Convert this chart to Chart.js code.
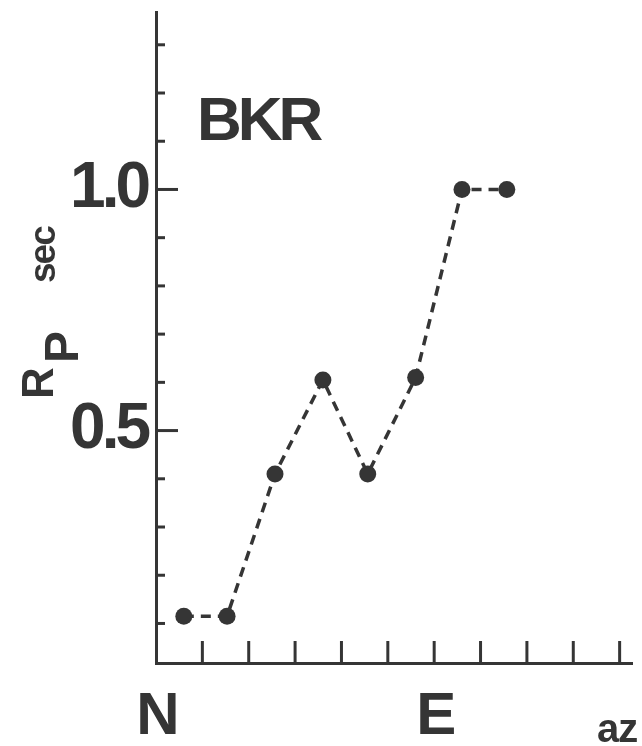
<!DOCTYPE html>
<html lang="en">
<head>
    <meta charset="UTF-8">
    <title>BKR Rp sec vs azimuth</title>
    <script src="https://cdn.jsdelivr.net/npm/chart.js"></script>
    <style>
        body { margin: 0; padding: 0; background: #fff; }
        canvas { display: block; }
    </style>
</head>
<body>
    <canvas id="rpChart" width="642" height="746"></canvas>

    <script>
        // values
        const azimuth = [9, 23, 38.5, 54, 68.5, 84, 99, 113.5];
        const rpSec = [0.115, 0.115, 0.41, 0.605, 0.41, 0.61, 1.0, 1.0];

        const xTicks = [0, 15, 30, 45, 60, 75, 90, 105, 120, 135, 150];
        const xNames = { 0: 'N', 90: 'E' };
        const yTicks = [0.1, 0.2, 0.3, 0.4, 0.5, 0.6, 0.7, 0.8, 0.9, 1.0, 1.1, 1.2, 1.3];
        const yNames = [[0.5, '0.5'], [1.0, '1.0']];

        const ink = '#353535';
        const fontFam = '"Liberation Sans", Arial, sans-serif';

        const yName = v => {
            const hit = yNames.find(p => Math.abs(p[0] - v) < 1e-6);
            return hit ? hit[1] : '';
        };

        // tighter lettering for the tick labels
        const tighten = {
            id: 'tighten',
            beforeDraw(chart) { chart.ctx.letterSpacing = '-4px'; },
            beforeDatasetsDraw(chart) { chart.ctx.letterSpacing = '0px'; }
        };

        // inward tick marks and free text
        const overlay = {
            id: 'overlay',
            afterDraw(chart) {
                const { ctx, scales: { x, y } } = chart;
                ctx.save();
                ctx.letterSpacing = '0px';
                ctx.strokeStyle = ink;
                ctx.lineWidth = 3;
                ctx.lineCap = 'butt';
                yTicks.forEach(v => {
                    const py = y.getPixelForValue(v);
                    const len = yName(v) ? 22 : 9;
                    ctx.beginPath();
                    ctx.moveTo(x.left, py);
                    ctx.lineTo(x.left + len, py);
                    ctx.stroke();
                });
                xTicks.forEach(v => {
                    if (v === 0) return;
                    const px = x.getPixelForValue(v);
                    ctx.beginPath();
                    ctx.moveTo(px, y.bottom);
                    ctx.lineTo(px, y.bottom - 22);
                    ctx.stroke();
                });

                ctx.fillStyle = ink;
                ctx.textBaseline = 'alphabetic';
                ctx.textAlign = 'left';
                ctx.letterSpacing = '-4px';
                ctx.font = 'bold 62px ' + fontFam;
                ctx.fillText('BKR', 197, 140);

                ctx.letterSpacing = '-1px';
                ctx.font = 'bold 40px ' + fontFam;
                ctx.fillText('az', 597, 742);

                // rotated axis title R_P sec
                ctx.translate(53, 399);
                ctx.rotate(-Math.PI / 2);
                ctx.letterSpacing = '0px';
                ctx.font = 'bold 44px ' + fontFam;
                ctx.fillText('R', 0, 0);
                ctx.font = 'bold 48px ' + fontFam;
                ctx.fillText('P', 36, 25);
                ctx.letterSpacing = '-2px';
                ctx.font = 'bold 37px ' + fontFam;
                ctx.fillText('sec', 116, 2);
                ctx.restore();
            }
        };

        new Chart(document.getElementById('rpChart'), {
            type: 'scatter',
            data: {
                datasets: [{
                    data: azimuth.map((a, i) => ({ x: a, y: rpSec[i] })),
                    showLine: true,
                    borderColor: ink,
                    borderWidth: 3.5,
                    borderDash: [10, 7],
                    pointRadius: 8.5,
                    pointBackgroundColor: ink,
                    pointBorderWidth: 0
                }]
            },
            options: {
                responsive: false,
                animation: false,
                layout: { padding: { top: 12, right: 10, left: 0, bottom: 0 } },
                plugins: { legend: { display: false }, tooltip: { enabled: false } },
                scales: {
                    x: {
                        type: 'linear',
                        min: 0,
                        max: 154,
                        afterBuildTicks: s => { s.ticks = xTicks.map(v => ({ value: v })); },
                        afterFit: s => {
                            s.height = 83;
                            s.paddingLeft = 0;
                            s.paddingRight = 0;
                        },
                        grid: { display: false, drawTicks: false },
                        border: { color: ink, width: 3 },
                        ticks: {
                            callback: v => xNames[v] || '',
                            autoSkip: false,
                            maxRotation: 0,
                            padding: 18,
                            color: ink,
                            font: { family: fontFam, size: 60, weight: 'bold' }
                        }
                    },
                    y: {
                        min: 0.018,
                        max: 1.368,
                        afterBuildTicks: s => { s.ticks = yTicks.map(v => ({ value: v })); },
                        afterFit: s => {
                            s.width = 156;
                            s.paddingTop = 0;
                            s.paddingBottom = 0;
                        },
                        grid: { display: false, drawTicks: false },
                        border: { color: ink, width: 3 },
                        ticks: {
                            callback: v => yName(v),
                            autoSkip: false,
                            padding: 9,
                            color: ink,
                            font: { family: fontFam, size: 64, weight: 'bold' }
                        }
                    }
                }
            },
            plugins: [tighten, overlay]
        });
    </script>
</body>
</html>
